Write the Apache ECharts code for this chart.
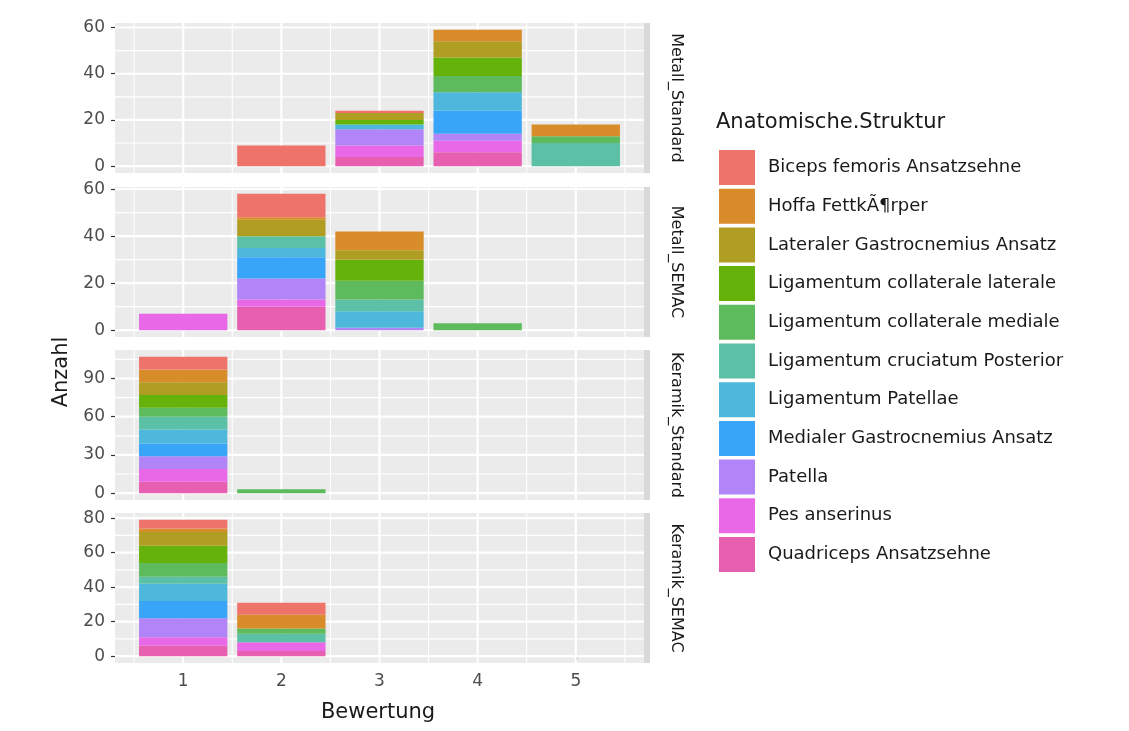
<!DOCTYPE html>
<html>
<head>
<meta charset="utf-8">
<script src="https://cdn.jsdelivr.net/npm/echarts@6/dist/echarts.min.js"></script>
<style>html,body{margin:0;padding:0;background:#fff}#c{width:1129px;height:731px}</style>
</head>
<body>
<div id="c"></div>
<script>
// ---------- DATA ----------
const bewertung = [1, 2, 3, 4, 5];
const panels = ['Metall_Standard', 'Metall_SEMAC', 'Keramik_Standard', 'Keramik_SEMAC'];
const structures = [
  'Biceps femoris Ansatzsehne',
  'Hoffa FettkÃ¶rper',
  'Lateraler Gastrocnemius Ansatz',
  'Ligamentum collaterale laterale',
  'Ligamentum collaterale mediale',
  'Ligamentum cruciatum Posterior',
  'Ligamentum Patellae',
  'Medialer Gastrocnemius Ansatz',
  'Patella',
  'Pes anserinus',
  'Quadriceps Ansatzsehne'
];
// rows follow "structures", columns follow "bewertung"
const metallStandard = [
  [0, 9, 1, 0, 0],
  [0, 0, 0, 5, 5],
  [0, 0, 3, 7, 0],
  [0, 0, 2, 8, 0],
  [0, 0, 0, 7, 3],
  [0, 0, 0, 0, 10],
  [0, 0, 2, 8, 0],
  [0, 0, 0, 10, 0],
  [0, 0, 7, 3, 0],
  [0, 0, 5, 5, 0],
  [0, 0, 4, 6, 0]
];
const metallSemac = [
  [0, 10, 0, 0, 0],
  [0, 1, 8, 0, 0],
  [0, 7, 4, 0, 0],
  [0, 0, 9, 0, 0],
  [0, 0, 8, 3, 0],
  [0, 5, 5, 0, 0],
  [0, 4, 7, 0, 0],
  [0, 9, 0, 0, 0],
  [0, 9, 1, 0, 0],
  [7, 3, 0, 0, 0],
  [0, 10, 0, 0, 0]
];
const keramikStandard = [
  [10, 0, 0, 0, 0],
  [10, 0, 0, 0, 0],
  [10, 0, 0, 0, 0],
  [10, 0, 0, 0, 0],
  [7, 3, 0, 0, 0],
  [10, 0, 0, 0, 0],
  [11, 0, 0, 0, 0],
  [10, 0, 0, 0, 0],
  [10, 0, 0, 0, 0],
  [10, 0, 0, 0, 0],
  [9, 0, 0, 0, 0]
];
const keramikSemac = [
  [5, 7, 0, 0, 0],
  [2, 8, 0, 0, 0],
  [8, 0, 0, 0, 0],
  [10, 0, 0, 0, 0],
  [8, 3, 0, 0, 0],
  [4, 5, 0, 0, 0],
  [10, 0, 0, 0, 0],
  [10, 0, 0, 0, 0],
  [11, 0, 0, 0, 0],
  [5, 5, 0, 0, 0],
  [6, 3, 0, 0, 0]
];
const yTicksMetallStandard = [0, 20, 40, 60];
const yTicksMetallSemac = [0, 20, 40, 60];
const yTicksKeramikStandard = [0, 30, 60, 90];
const yTicksKeramikSemac = [0, 20, 40, 60, 80];

// ---------- STYLE / LAYOUT ----------
const colors = ['#EE746B', '#D98C2A', '#B09E22', '#64B20A', '#5DBB5E', '#5BC0A5',
                '#4DB8DC', '#39A5F8', '#B184F8', '#E868E8', '#E75FB0'];
const panelData = [metallStandard, metallSemac, keramikStandard, keramikSemac];
const panelTicks = [yTicksMetallStandard, yTicksMetallSemac, yTicksKeramikStandard, yTicksKeramikSemac];
const gridLeft = 115, gridWidth = 529, gridHeight = 150;
const gridTops = [23, 187, 350, 513];
const barFrac = 0.9;
const xLo = bewertung[0] - barFrac / 2, xHi = bewertung[bewertung.length - 1] + barFrac / 2;
const xMin = xLo - 0.05 * (xHi - xLo), xMax = xHi + 0.05 * (xHi - xLo);
const barPx = barFrac * gridWidth / (xMax - xMin);
const FONT = 'DejaVu Sans';

const grids = [], xAxes = [], yAxes = [], series = [], graphics = [];

panelData.forEach((mat, p) => {
  const totals = bewertung.map((b, i) => mat.reduce((s, row) => s + row[i], 0));
  const maxT = Math.max(...totals);
  const yMin = -0.05 * maxT, yMax = 1.05 * maxT;
  const ticks = panelTicks[p];
  const last = p === panelData.length - 1;

  grids.push({ left: gridLeft, top: gridTops[p], width: gridWidth, height: gridHeight,
    show: true, backgroundColor: '#EBEBEB', borderWidth: 0, containLabel: false });

  xAxes.push({ type: 'value', gridIndex: p, min: xMin, max: xMax,
    axisLine: { show: false }, splitLine: { show: false },
    axisTick: { show: last, length: 4, lineStyle: { color: '#333', width: 1.2 }, customValues: bewertung },
    axisLabel: { show: last, margin: 10, color: '#4D4D4D', fontFamily: FONT, fontSize: 17, customValues: bewertung } });

  yAxes.push({ type: 'value', gridIndex: p, min: yMin, max: yMax,
    axisLine: { show: false }, splitLine: { show: false },
    axisTick: { show: true, length: 4, lineStyle: { color: '#333', width: 1.2 }, customValues: ticks },
    axisLabel: { margin: 10, color: '#4D4D4D', fontFamily: FONT, fontSize: 17, customValues: ticks } });

  // gridlines (ggplot style): kind 0 = x major, 1 = x minor, 2 = y major, 3 = y minor
  const lines = [];
  bewertung.forEach(b => lines.push([b, 0]));
  for (let i = 0; i <= bewertung.length; i++) {
    const m = bewertung[0] - 0.5 + i;
    if (m >= xMin && m <= xMax) lines.push([m, 1]);
  }
  ticks.forEach(t => lines.push([t, 2]));
  const step = ticks[1] - ticks[0];
  for (let i = 0; i < ticks.length; i++) {
    const m = ticks[i] + step / 2;
    if (m >= yMin && m <= yMax) lines.push([m, 3]);
  }
  series.push({
    type: 'custom', xAxisIndex: p, yAxisIndex: p, silent: true, z: 1,
    data: lines,
    renderItem: (params, api) => {
      const v = api.value(0), k = api.value(1);
      let a, b;
      if (k < 2) { a = api.coord([v, yMin]); b = api.coord([v, yMax]); }
      else { a = api.coord([xMin, v]); b = api.coord([xMax, v]); }
      return { type: 'line', shape: { x1: a[0], y1: a[1], x2: b[0], y2: b[1] },
        style: { stroke: '#FFFFFF', lineWidth: (k % 2 === 0) ? 2.2 : 1.1 } };
    }
  });

  // stacked bars: first factor level on top -> add in reverse order.
  // value column first so that the stacked dimension is the y value.
  for (let s = structures.length - 1; s >= 0; s--) {
    series.push({
      type: 'bar', name: structures[s], xAxisIndex: p, yAxisIndex: p,
      stack: 'panel' + p, barWidth: barPx, z: 2,
      itemStyle: { color: colors[s] },
      emphasis: { disabled: true },
      encode: { x: 1, y: 0 },
      data: bewertung.map((b, i) => [mat[s][i], b])
    });
  }

  // facet strip
  graphics.push({ type: 'rect', shape: { x: gridLeft + gridWidth, y: gridTops[p], width: 6, height: gridHeight },
    style: { fill: '#D9D9D9' } });
  graphics.push({ type: 'text', x: 676, y: gridTops[p] + gridHeight / 2, rotation: -Math.PI / 2,
    style: { text: panels[p], font: '16px "' + FONT + '"', fill: '#1A1A1A', align: 'center', verticalAlign: 'middle' } });
});

graphics.push({ type: 'text', x: 62, y: 372, rotation: Math.PI / 2,
  style: { text: 'Anzahl', font: '21px "' + FONT + '"', fill: '#1A1A1A', align: 'center', verticalAlign: 'middle' } });
graphics.push({ type: 'text', x: 378, y: 713,
  style: { text: 'Bewertung', font: '21px "' + FONT + '"', fill: '#1A1A1A', align: 'center', verticalAlign: 'middle' } });

const chart = echarts.init(document.getElementById('c'), null, { renderer: 'canvas' });
chart.setOption({
  animation: false,
  backgroundColor: '#FFFFFF',
  title: { text: 'Anatomische.Struktur', left: 716, top: 112, padding: 0,
    textStyle: { fontFamily: FONT, fontSize: 21, fontWeight: 'normal', color: '#1A1A1A' } },
  legend: {
    data: structures, orient: 'vertical', left: 719, top: 150, padding: 0,
    itemWidth: 36, itemHeight: 35, itemGap: 3.7, icon: 'rect', selectedMode: false,
    textStyle: { fontFamily: FONT, fontSize: 18, color: '#1A1A1A', padding: [0, 0, 0, 8] }
  },
  grid: grids, xAxis: xAxes, yAxis: yAxes, series: series,
  graphic: graphics
});
</script>
</body>
</html>
